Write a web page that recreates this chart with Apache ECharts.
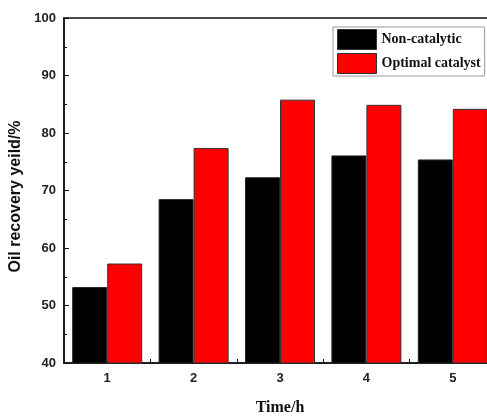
<!DOCTYPE html>
<html>
<head>
<meta charset="utf-8">
<script src="https://cdn.jsdelivr.net/npm/echarts@6/dist/echarts.min.js"></script>
<style>
  html, body { margin: 0; padding: 0; background: #fff; }
  #chart { width: 487px; height: 416px; }
</style>
</head>
<body>
<div id="chart"></div>
<script>
// Reaction time (h) on the horizontal axis
const times = ['1', '2', '3', '4', '5'];
// Oil recovery yield (%) for each run type
const nonCatalytic = [53.2, 68.5, 72.3, 76.1, 75.4];
const optimalCatalyst = [57.3, 77.4, 85.8, 84.9, 84.2];

const chart = echarts.init(document.getElementById('chart'), null, { renderer: 'canvas' });

const tickFont = { fontFamily: 'Liberation Sans, Arial, sans-serif', fontWeight: 'bold', fontSize: 13, color: '#222' };

chart.setOption({
  backgroundColor: '#ffffff',
  animation: false,
  grid: {
    left: 64, top: 18, width: 432, height: 345,
    outerBoundsMode: 'none',
    containLabel: false,
    show: true, borderColor: '#111', borderWidth: 1.5, backgroundColor: 'transparent'
  },
  legend: {
    left: 333, top: 27,
    orient: 'vertical',
    icon: 'rect',
    itemWidth: 39, itemHeight: 20, itemGap: 3,
    padding: [2, 4, 2, 4],
    borderColor: '#999', borderWidth: 1,
    backgroundColor: '#fff',
    itemStyle: { borderColor: '#333', borderWidth: 1 },
    textStyle: { fontFamily: 'Liberation Serif, Times New Roman, serif', fontWeight: 'bold', fontSize: 14, color: '#111' },
    data: ['Non-catalytic', 'Optimal catalyst']
  },
  xAxis: {
    type: 'category',
    data: times,
    boundaryGap: true,
    name: 'Time/h',
    nameLocation: 'middle',
    nameGap: 37,
    nameTextStyle: { fontFamily: 'Liberation Serif, Times New Roman, serif', fontWeight: 'bold', fontSize: 16, color: '#111' },
    axisLine: { lineStyle: { color: '#111', width: 1.5 } },
    axisTick: { show: true, inside: true, length: 4, lineStyle: { color: '#111' } },
    axisLabel: Object.assign({ margin: 9 }, tickFont),
    splitLine: { show: false }
  },
  yAxis: {
    type: 'value',
    min: 40, max: 100, interval: 10,
    name: 'Oil recovery yeild/%',
    nameLocation: 'middle',
    nameGap: 37,
    nameTextStyle: { fontFamily: 'Liberation Sans, Arial, sans-serif', fontWeight: 'bold', fontSize: 16, color: '#111', padding: [0, 12, 0, 0] },
    axisLine: { show: true, lineStyle: { color: '#111', width: 1.5 } },
    axisTick: { show: true, inside: true, length: 5, lineStyle: { color: '#111' } },
    minorTick: { show: true, splitNumber: 2, length: 3, lineStyle: { color: '#111' } },
    axisLabel: Object.assign({ margin: 8 }, tickFont),
    splitLine: { show: false }
  },
  series: [
    {
      name: 'Non-catalytic',
      type: 'bar',
      data: nonCatalytic,
      barWidth: 35,
      barGap: '0%',
      itemStyle: { color: '#000000', borderColor: '#222', borderWidth: 1 }
    },
    {
      name: 'Optimal catalyst',
      type: 'bar',
      data: optimalCatalyst,
      barWidth: 35,
      barGap: '0%',
      itemStyle: { color: '#ff0000', borderColor: '#333', borderWidth: 1 }
    }
  ]
});
</script>
</body>
</html>
